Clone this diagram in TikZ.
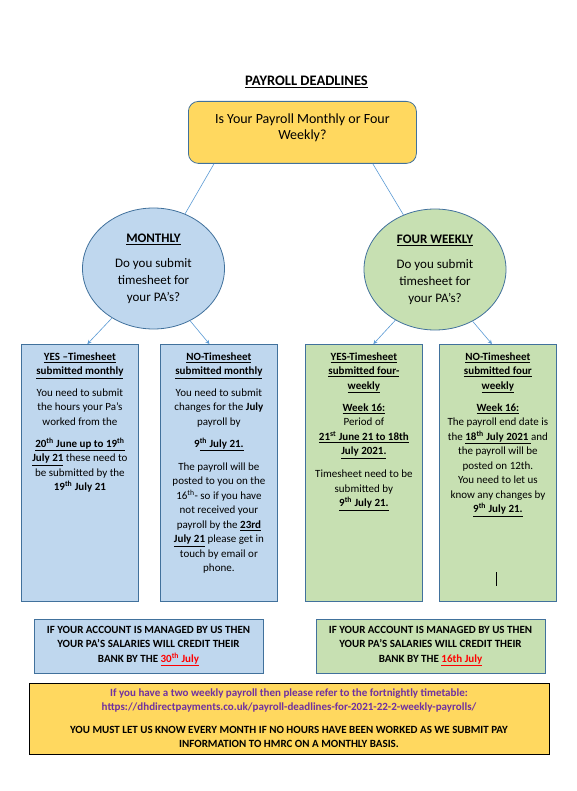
\documentclass[tikz,border=0pt]{standalone}
\usepackage{fontspec}
\setmainfont{Carlito}
\usetikzlibrary{shapes.geometric,calc,arrows.meta}

\definecolor{paleblue}{HTML}{BFD7EE}
\definecolor{palegreen}{HTML}{C7E0B2}
\definecolor{paleyellow}{HTML}{FFD85F}
\definecolor{edgeblue}{HTML}{41719C}
\definecolor{linkblue}{HTML}{5B9BD5}
\definecolor{notepurple}{HTML}{7030A0}

\newcommand{\uln}[1]{\underline{#1}}
\newcommand{\thsup}{\textsuperscript{th}}
\newcommand{\colbox}[1]{\parbox[t]{113pt}{\centering\fontsize{11}{14.5}\selectfont #1}}

\begin{document}
\begin{tikzpicture}[x=1pt, y=-1pt, >={Stealth[length=4pt,width=4pt]}]
    \tikzset{
        link/.style={draw=linkblue, line width=0.6pt},
        tallbox/.style={draw=edgeblue, line width=0.8pt, anchor=north west,
            inner xsep=2pt, inner ysep=0pt, text height=16pt, text depth=241pt},
        creditbox/.style={draw=edgeblue, line width=0.8pt, minimum width=229pt,
            minimum height=54pt, align=center, font=\fontsize{11}{14.5}\selectfont\bfseries},
        choice/.style={ellipse, draw=edgeblue, line width=0.8pt, minimum width=142pt,
            minimum height=121pt, inner sep=0pt, align=center, font=\fontsize{13}{17}\selectfont}
    }
    \fill[white] (0,0) rectangle (577,791);
    \useasboundingbox (0,0) rectangle (577,791);

    % heading and first question
    \node[font=\fontsize{14.5}{17}\selectfont\bfseries] (title) at (306.5,82) {\uln{PAYROLL DEADLINES}};
    \node[draw=edgeblue, line width=0.8pt, fill=paleyellow, rounded corners=10pt,
        anchor=north west, inner xsep=4pt, inner ysep=0pt, text height=22pt, text depth=40pt]
        (question) at (188,101)
        {\parbox[t]{220pt}{\centering\fontsize{14}{16}\selectfont Is Your Payroll Monthly or Four\\ Weekly?}};

    % the two kinds of payroll
    \node[choice, fill=paleblue] (monthly) at (153.5,268.5)
        {{\bfseries\uln{MONTHLY}}\\[8pt] Do you submit\\ timesheet for\\ your PA’s?};
    \node[choice, fill=palegreen] (fourweekly) at (435,269.5)
        {{\bfseries\uln{FOUR WEEKLY}}\\[8pt] Do you submit\\ timesheet for\\ your PA’s?};

    \draw[link] ($(question.south west)+(26,0)$) -- (monthly.60);
    \draw[link] ($(question.south east)+(-44,0)$) -- (fourweekly.120);

    % monthly answers
    \node[tallbox, fill=paleblue] (yesmonthly) at (21,344) {\colbox{%
        {\bfseries\uln{YES –Timesheet}\\ \uln{submitted monthly}}\\[7pt]
        You need to submit\\ the hours your Pa’s\\ worked from the\\[7.5pt]
        {\bfseries\uln{20\thsup\ June up to 19\thsup}}\\
        {\bfseries\uln{July 21}} these need to\\ be submitted by the\\
        {\bfseries 19\thsup\ July 21}}};
    \node[tallbox, fill=paleblue] (nomonthly) at (160,344) {\colbox{%
        {\bfseries\uln{NO-Timesheet}\\ \uln{submitted monthly}}\\[7pt]
        You need to submit\\ changes for the {\bfseries July}\\ payroll by\\[7.5pt]
        {\bfseries 9\uln{\thsup\ July 21.}}\\[8.5pt]
        The payroll will be\\ posted to you on the\\ 16\thsup- so if you have\\
        not received your\\ payroll by the {\bfseries\uln{23rd}}\\
        {\bfseries\uln{July 21}} please get in\\ touch by email or\\ phone.}};

    % four weekly answers
    \node[tallbox, fill=palegreen] (yesfour) at (305,344) {\colbox{%
        {\bfseries\uln{YES-Timesheet}\\ \uln{submitted four-}\\ \uln{weekly}}\\[7.5pt]
        {\bfseries\uln{Week 16:}}\\ Period of\\
        {\bfseries\uln{21\textsuperscript{st} June 21 to 18th}}\\
        {\bfseries\uln{July 2021.}}\\[8.5pt]
        Timesheet need to be\\ submitted by\\
        {\bfseries\uln{9\thsup\ July 21.}}}};
    \node[tallbox, fill=palegreen] (nofour) at (439,344) {\colbox{%
        {\bfseries\uln{NO-Timesheet}\\ \uln{submitted four}\\ \uln{weekly}}\\[7.5pt]
        {\bfseries\uln{Week 16:}}\\ The payroll end date is\\
        the {\bfseries\uln{18\thsup\ July 2021\ }}and\\ the payroll will be\\
        posted on 12th.\\ You need to let us\\ know any changes by\\
        {\bfseries\uln{9\thsup\ July 21.}}}};
    \draw[line width=0.6pt] (nofour.south) ++(-2,-16) -- ++(0,-14);

    \draw[link, ->] (monthly.230) -- ($(yesmonthly.north)+(7.5,0)$);
    \draw[link, ->] (monthly.305) -- ($(nomonthly.north)+(-9.5,0)$);
    \draw[link, ->] (fourweekly.232) -- ($(yesfour.north)+(9.5,0)$);
    \draw[link, ->] (fourweekly.306) -- ($(nofour.north)+(-6,0)$);

    % when the money arrives
    \node[creditbox, fill=paleblue] (creditmonthly) at (148.5,646)
        {IF YOUR ACCOUNT IS MANAGED BY US THEN\\ YOUR PA’S SALARIES WILL CREDIT THEIR\\
        BANK BY THE {\color{red}\uln{30\thsup\ July}}};
    \node[creditbox, fill=palegreen] (creditfour) at (430.5,646)
        {IF YOUR ACCOUNT IS MANAGED BY US THEN\\ YOUR PA’S SALARIES WILL CREDIT THEIR\\
        BANK BY THE {\color{red}\uln{16th July}}};

    % footnote
    \node[draw=black, line width=0.8pt, fill=paleyellow, minimum width=520pt, minimum height=71pt,
        align=center, font=\fontsize{11}{14}\selectfont\bfseries] (note) at (289,718.5)
        {{\color{notepurple}If you have a two weekly payroll then please refer to the fortnightly timetable:}\\
        {\color{notepurple}https://dhdirectpayments.co.uk/payroll-deadlines-for-2021-22-2-weekly-payrolls/}\\[9pt]
        YOU MUST LET US KNOW EVERY MONTH IF NO HOURS HAVE BEEN WORKED AS WE SUBMIT PAY\\
        INFORMATION TO HMRC ON A MONTHLY BASIS.};
\end{tikzpicture}
\end{document}
